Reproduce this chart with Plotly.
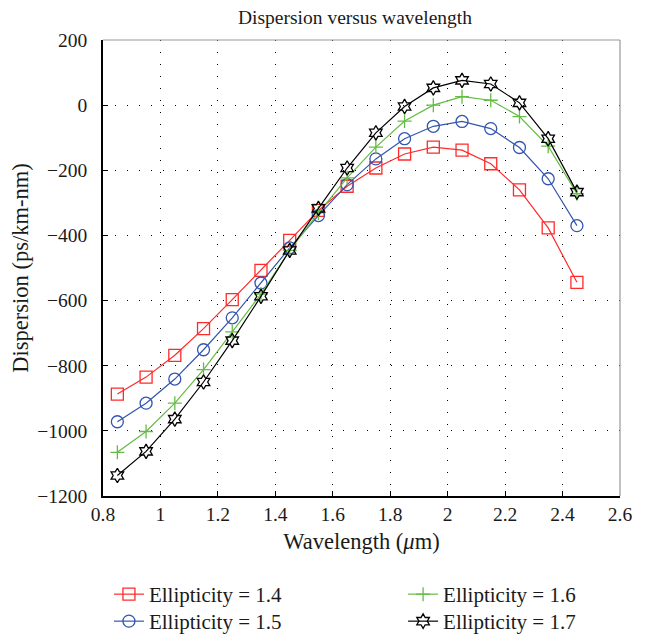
import plotly.graph_objects as go

wavelength = [0.85, 0.95, 1.05, 1.15, 1.25, 1.35, 1.45, 1.55, 1.65, 1.75, 1.85, 1.95, 2.05, 2.15, 2.25, 2.35, 2.45]
disp_14 = [-887, -835, -768, -686, -597, -507, -415, -323, -249, -193, -150, -129, -138, -180, -260, -377, -544]
disp_15 = [-972, -915, -841, -751, -653, -546, -438, -339, -244, -165, -103, -65, -50, -72, -130, -226, -370]
disp_16 = [-1066, -1002, -915, -812, -696, -580, -446, -331, -223, -129, -49, 0, 26, 15, -35, -126, -272]
disp_17 = [-1137, -1063, -964, -850, -723, -587, -446, -317, -193, -85, -4, 53, 76, 65, 7, -103, -267]

x_ticks = [0.8, 1, 1.2, 1.4, 1.6, 1.8, 2, 2.2, 2.4, 2.6]
x_tick_labels = ["0.8", "1", "1.2", "1.4", "1.6", "1.8", "2", "2.2", "2.4", "2.6"]
y_ticks = [-1200, -1000, -800, -600, -400, -200, 0, 200]
y_tick_labels = ["\u22121200", "\u22121000", "\u2212800", "\u2212600", "\u2212400", "\u2212200", "0", "200"]

FONT = "Liberation Serif"
TXT = "#1a1a1a"
# the page body adds an 8px margin; the figure is made a bit taller than the window
W, H = 642, 660
L, R, T, B = 90, 30, 32, 172
PW, PH = W - L - R, H - T - B
PB = H - B  # plot bottom in figure px

series = [
    ("Ellipticity = 1.4", disp_14, "#ff2a2a", "square-open", 12, "legend"),
    ("Ellipticity = 1.5", disp_15, "#3355b0", "circle-open", 12, "legend2"),
    ("Ellipticity = 1.6", disp_16, "#66bb44", "cross-thin-open", 10, "legend3"),
    ("Ellipticity = 1.7", disp_17, "#000000", "hexagram-open", 11, "legend4"),
]

fig = go.Figure()
for name, vals, color, sym, size, leg in series:
    fig.add_trace(go.Scatter(
        x=wavelength, y=vals, name=name, mode="lines+markers",
        line=dict(color=color, width=1.2),
        marker=dict(symbol=sym, size=size, color=color, line=dict(color=color, width=1.3)),
        legend=leg,
    ))

axis_common = dict(
    showgrid=True, gridcolor="#000000", gridwidth=1, griddash="1px,11px",
    zeroline=False, showline=True, linecolor="#000000", linewidth=1.5,
    ticks="inside", ticklen=5, tickcolor="#000000",
    tickfont=dict(family=FONT, size=19.5, color=TXT),
)

fig.update_xaxes(range=[0.8, 2.6], tickvals=x_ticks, ticktext=x_tick_labels,
                 ticklabelstandoff=0,
                 title=dict(text="Wavelength (<i>\u03bc</i>m)", font=dict(family=FONT, size=22.5, color=TXT), standoff=9),
                 **axis_common)
fig.update_yaxes(range=[-1200, 200], tickvals=y_ticks, ticktext=y_tick_labels,
                 ticklabelstandoff=10,
                 title=dict(text="Dispersion (ps/km-nm)", font=dict(family=FONT, size=22.5, color=TXT), standoff=2),
                 **axis_common)

# top and right frame (light gray)
fig.add_shape(type="line", xref="paper", yref="paper", x0=0, x1=1, y0=1, y1=1, line=dict(color="#999999", width=1.2))
fig.add_shape(type="line", xref="paper", yref="paper", x0=1, x1=1, y0=0, y1=1, line=dict(color="#999999", width=1.2))

legend_common = dict(
    orientation="v", bgcolor="rgba(0,0,0,0)", borderwidth=0,
    font=dict(family=FONT, size=21, color=TXT),
    xanchor="left", yanchor="top", itemwidth=30,
)

col1_x, col2_x = 96, 393
row1_top, row2_top = 566, 593

def px_x(v):
    return (v - L) / PW

def px_y(v):
    return (PB - v) / PH

fig.update_layout(
    width=W, height=H,
    margin=dict(l=L, r=R, t=T, b=B),
    paper_bgcolor="white", plot_bgcolor="white",
    title=dict(text="Dispersion versus wavelength", x=347 / W, xanchor="center",
               y=1 - 9 / H, yanchor="middle",
               font=dict(family=FONT, size=19.5, color=TXT)),
    showlegend=True,
    legend=dict(x=px_x(col1_x), y=px_y(row1_top), **legend_common),
    legend2=dict(x=px_x(col1_x), y=px_y(row2_top), **legend_common),
    legend3=dict(x=px_x(col2_x), y=px_y(row1_top), **legend_common),
    legend4=dict(x=px_x(col2_x), y=px_y(row2_top), **legend_common),
)

fig.write_html("out.html")
